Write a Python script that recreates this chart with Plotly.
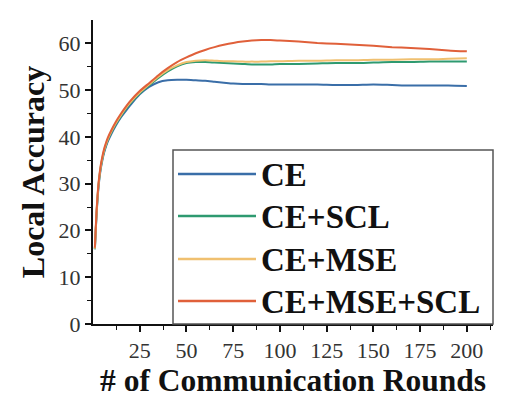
import plotly.graph_objects as go

rounds = [1, 2, 3, 4, 5, 6, 7, 8, 10, 12, 15, 18, 20, 25, 30, 35, 40, 45, 50, 55, 60,
          65, 70, 75, 80, 85, 90, 95, 100, 110, 120, 130, 140, 150, 160, 170, 180, 190, 200]

ce = [16.0, 24.0, 29.5, 32.8, 35.0, 36.7, 38.0, 39.1, 40.8, 42.3, 44.2, 45.8, 46.8, 49.1, 50.7, 51.7, 52.1, 52.2, 52.2, 52.1, 52.0,
      51.8, 51.6, 51.4, 51.3, 51.3, 51.3, 51.2, 51.2, 51.2, 51.2, 51.1, 51.1, 51.2, 51.1, 51.0, 51.0, 51.0, 50.9]

ce_scl = [16.0, 24.3, 29.8, 33.1, 35.3, 37.0, 38.3, 39.4, 41.1, 42.6, 44.5, 46.2, 47.2, 49.3, 51.0, 52.6, 54.0, 55.1, 55.8, 56.0, 56.0,
          55.9, 55.8, 55.7, 55.6, 55.5, 55.5, 55.5, 55.6, 55.6, 55.7, 55.8, 55.8, 55.9, 56.0, 56.0, 56.1, 56.1, 56.1]

ce_mse = [16.1, 24.5, 30.0, 33.3, 35.5, 37.2, 38.5, 39.6, 41.3, 42.8, 44.7, 46.4, 47.4, 49.5, 51.2, 52.9, 54.3, 55.3, 56.0, 56.3, 56.4,
          56.3, 56.2, 56.2, 56.1, 56.1, 56.1, 56.2, 56.2, 56.3, 56.3, 56.4, 56.4, 56.5, 56.5, 56.6, 56.6, 56.7, 56.8]

ce_mse_scl = [16.3, 24.8, 30.3, 33.6, 35.8, 37.5, 38.8, 39.9, 41.6, 43.1, 45.0, 46.7, 47.7, 49.8, 51.5, 53.2, 54.7, 56.0, 57.0, 57.9, 58.6,
              59.2, 59.7, 60.1, 60.4, 60.6, 60.7, 60.7, 60.6, 60.4, 60.1, 59.9, 59.7, 59.5, 59.2, 59.0, 58.8, 58.5, 58.3]

series_names = ["CE", "CE+SCL", "CE+MSE", "CE+MSE+SCL"]
series_values = [ce, ce_scl, ce_mse, ce_mse_scl]
colors = ["#3a6ea8", "#2e9a70", "#f0c070", "#e0603a"]

x_ticks = [25, 50, 75, 100, 125, 150, 175, 200]
y_ticks = [0, 10, 20, 30, 40, 50, 60]

W, H = 510, 397
L, R, T, B = 85, 25, 12, 81

fig = go.Figure()
for name, vals, col in zip(series_names, series_values, colors):
    fig.add_trace(go.Scatter(x=rounds, y=vals, mode="lines", name=name,
                             line=dict(color=col, width=2, shape="spline", smoothing=0.7),
                             showlegend=False))

serif = "Liberation Serif, Times New Roman, serif"

# manual legend (pixel -> paper conversion)
pw, ph = W - L - R, H - T - B
def px(xp):
    return (xp - L) / pw
def py(yp):
    return 1 - (yp - T) / ph

shapes = [dict(type="rect", xref="paper", yref="paper",
               x0=px(165), x1=px(485), y0=py(316), y1=py(142),
               line=dict(color="#555555", width=1.5), fillcolor="rgba(255,255,255,0)")]
annotations = []
row_y = [166, 208, 251, 293]
for name, col, ry in zip(series_names, colors, row_y):
    shapes.append(dict(type="line", xref="paper", yref="paper",
                       x0=px(170), x1=px(248), y0=py(ry), y1=py(ry),
                       line=dict(color=col, width=2.5)))
    annotations.append(dict(xref="paper", yref="paper", x=px(251), y=py(ry + 1),
                            xanchor="left", yanchor="middle", showarrow=False,
                            text="<b>%s</b>" % name,
                            font=dict(family=serif, size=33, color="#111111")))

fig.update_layout(
    width=W, height=H,
    margin=dict(l=L, r=R, t=T, b=B),
    plot_bgcolor="white", paper_bgcolor="white",
    shapes=shapes, annotations=annotations,
    xaxis=dict(range=[0, 214], tickvals=x_ticks, ticktext=[str(v) for v in x_ticks],
               showgrid=False, zeroline=False, showline=True, linecolor="#111111", linewidth=2,
               ticks="outside", ticklen=6, tickwidth=1.5, tickcolor="#111111",
               minor=dict(tickvals=[12.5, 37.5, 62.5, 87.5, 112.5, 137.5, 162.5, 187.5, 212.5],
                          ticks="outside", ticklen=4, tickcolor="#111111", tickwidth=1.2),
               tickfont=dict(family=serif, size=22, color="#333333"),
               title=dict(text="<b># of Communication Rounds</b>", standoff=5,
                          font=dict(family=serif, size=31.5, color="#111111"))),
    yaxis=dict(range=[0, 65], tickvals=y_ticks,
               showgrid=False, zeroline=False, showline=True, linecolor="#111111", linewidth=2,
               ticks="outside", ticklen=6, tickwidth=1.5, tickcolor="#111111",
               minor=dict(tickvals=[5, 15, 25, 35, 45, 55], ticks="outside", ticklen=4,
                          tickcolor="#111111", tickwidth=1.2),
               tickfont=dict(family=serif, size=22, color="#333333"),
               title=dict(text="<b>Local Accuracy</b>", standoff=4,
                          font=dict(family=serif, size=32, color="#111111"))),
)

fig.write_html("out.html")
